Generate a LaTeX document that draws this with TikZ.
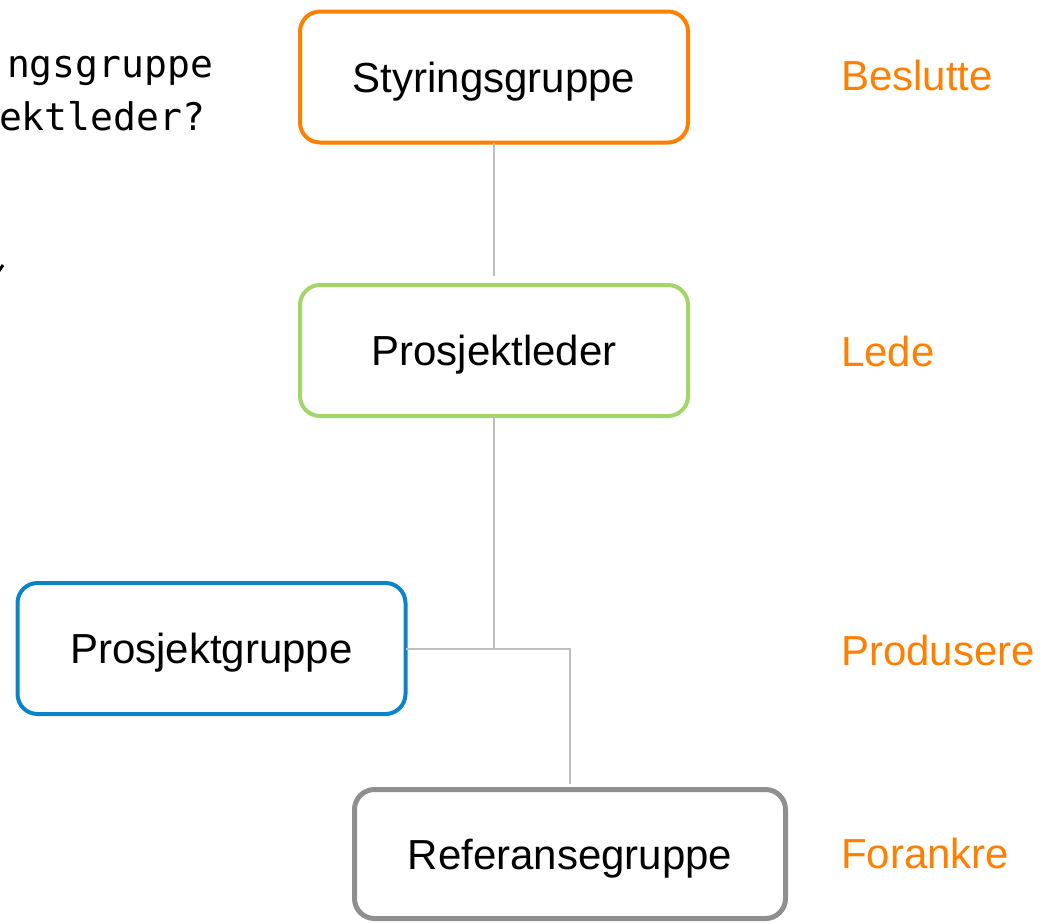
\documentclass[tikz,border=0pt]{standalone}
\usepackage{fontspec}
\setmainfont{Liberation Sans}
\newfontfamily\monofont{DejaVu Sans Mono}
\usepackage{tikz}

\definecolor{oransje}{HTML}{FF7F00}
\definecolor{groenn}{HTML}{A2D66A}
\definecolor{blaa}{HTML}{0A84C8}
\definecolor{graa}{HTML}{8F8F8F}
\definecolor{linjegraa}{HTML}{BEBEBE}

\begin{document}
\begin{tikzpicture}[x=0.5pt, y=-0.5pt, outer sep = 0pt]

\tikzstyle{boks}=[draw, rectangle, rounded corners=10pt, line width=2pt, minimum height=65.5pt, minimum width=194pt, text height=15pt, text depth=0pt, font=\fontsize{21}{25}\selectfont]
\tikzstyle{rolle}=[anchor=base west, inner sep=0pt, text=oransje, font=\fontsize{21}{25}\selectfont]
\tikzstyle{linje}=[draw=linjegraa, line width=1pt]
\tikzstyle{spm}=[inner sep=0pt, font=\monofont\fontsize{19}{24}\selectfont]

\useasboundingbox (0,0) rectangle (1044,923);

\node[boks, draw=oransje] (styr) at (494,77) {Styringsgruppe};
\node[boks, draw=groenn] (leder) at (494,350.5) {Prosjektleder};
\node[boks, draw=blaa] (gruppe) at (211.5,648.5) {Prosjektgruppe};
\node[boks, draw=graa, line width=2.5pt, minimum width=215.5pt, minimum height=64.5pt] (ref) at (570,854) {Referansegruppe};

\node[rolle] (beslutte) at (841,90) {Beslutte};
\node[rolle] (lede) at (841,366) {Lede};
\node[rolle] (produsere) at (841,665) {Produsere};
\node[rolle] (forankre) at (841,868) {Forankre};

% tekst som er kuttet i venstre kant
\node[spm, anchor=base east] (spm1) at (213,77) {ngsgruppe};
\node[spm, anchor=base west] (spm2) at (-1,130) {ektleder?};
\draw[line width=1.5pt] (-6,278) -- (3,265);

\draw[linje] (styr.south) -- ([yshift=4.5pt]leder.north);
\draw[linje] (leder.south) -- (leder.south |- gruppe.east);
\draw[linje] (gruppe.east) -- (gruppe.east -| ref.north) -- ([yshift=3pt]ref.north);
\end{tikzpicture}
\end{document}
